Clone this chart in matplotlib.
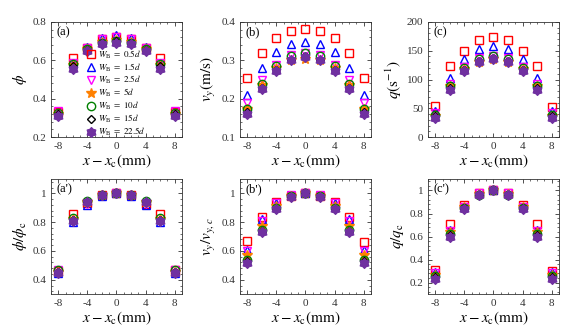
import numpy as np
import matplotlib
matplotlib.use('Agg')
import matplotlib.pyplot as plt
from matplotlib.ticker import AutoMinorLocator, MultipleLocator
from matplotlib.path import Path

plt.rcParams['font.family'] = ['Liberation Serif', 'DejaVu Serif']
plt.rcParams['mathtext.fontset'] = 'stix'

# positions across the bed
x = [-8, -6, -4, -2, 0, 2, 4, 6, 8]
labels = ['0.5', '1.5', '2.5', '5', '10', '15', '22.5']

# solid fraction phi
phi = [
    [0.33, 0.61, 0.665, 0.71, 0.72, 0.71, 0.665, 0.61, 0.33],
    [0.325, 0.585, 0.67, 0.715, 0.73, 0.715, 0.67, 0.585, 0.325],
    [0.335, 0.585, 0.665, 0.71, 0.72, 0.71, 0.665, 0.585, 0.335],
    [0.32, 0.575, 0.66, 0.695, 0.705, 0.695, 0.66, 0.575, 0.32],
    [0.325, 0.58, 0.66, 0.69, 0.70, 0.69, 0.66, 0.58, 0.325],
    [0.32, 0.57, 0.655, 0.69, 0.70, 0.69, 0.655, 0.57, 0.32],
    [0.31, 0.555, 0.65, 0.685, 0.69, 0.685, 0.65, 0.555, 0.31],
]
# vertical velocity
vy = [
    [0.255, 0.319, 0.357, 0.376, 0.382, 0.377, 0.358, 0.319, 0.254],
    [0.209, 0.28, 0.322, 0.342, 0.348, 0.342, 0.322, 0.28, 0.209],
    [0.188, 0.248, 0.288, 0.313, 0.318, 0.313, 0.288, 0.248, 0.188],
    [0.172, 0.235, 0.28, 0.302, 0.303, 0.302, 0.28, 0.235, 0.172],
    [0.172, 0.238, 0.286, 0.312, 0.318, 0.312, 0.286, 0.238, 0.172],
    [0.165, 0.229, 0.275, 0.302, 0.31, 0.302, 0.275, 0.229, 0.165],
    [0.160, 0.226, 0.272, 0.300, 0.308, 0.300, 0.272, 0.226, 0.160],
]
# flow rate
q = [
    [54, 123, 150, 169, 173, 169, 150, 123, 53],
    [46, 102, 135, 153, 158, 153, 135, 103, 46],
    [41, 93, 122, 137, 141, 137, 122, 93, 41],
    [37, 88, 118, 131, 135, 131, 118, 88, 37],
    [38, 89, 120, 135, 140, 135, 120, 89, 38],
    [36, 86, 116, 132, 137, 132, 116, 86, 36],
    [33, 82, 114, 130, 136, 130, 114, 82, 33],
]
# normalised by centre value
phi_n = [
    [0.46, 0.855, 0.93, 0.99, 1.0, 0.99, 0.925, 0.855, 0.465],
    [0.445, 0.80, 0.92, 0.98, 1.0, 0.98, 0.92, 0.80, 0.445],
    [0.465, 0.81, 0.925, 0.985, 1.0, 0.985, 0.925, 0.81, 0.465],
    [0.455, 0.82, 0.94, 0.99, 1.0, 0.99, 0.94, 0.82, 0.455],
    [0.465, 0.83, 0.945, 0.99, 1.0, 0.99, 0.945, 0.83, 0.465],
    [0.455, 0.815, 0.94, 0.99, 1.0, 0.99, 0.94, 0.815, 0.455],
    [0.45, 0.805, 0.94, 0.99, 1.0, 0.99, 0.94, 0.805, 0.45],
]
vy_n = [
    [0.67, 0.835, 0.94, 0.985, 1.0, 0.985, 0.94, 0.835, 0.665],
    [0.605, 0.82, 0.935, 0.99, 1.0, 0.99, 0.935, 0.82, 0.605],
    [0.60, 0.81, 0.93, 0.99, 1.0, 0.99, 0.93, 0.81, 0.60],
    [0.575, 0.77, 0.91, 0.985, 1.0, 0.985, 0.91, 0.77, 0.575],
    [0.54, 0.745, 0.90, 0.98, 1.0, 0.98, 0.90, 0.745, 0.54],
    [0.53, 0.74, 0.89, 0.975, 1.0, 0.975, 0.89, 0.74, 0.53],
    [0.515, 0.735, 0.89, 0.975, 1.0, 0.975, 0.89, 0.735, 0.515],
]
q_n = [
    [0.31, 0.71, 0.87, 0.98, 1.0, 0.98, 0.87, 0.71, 0.305],
    [0.29, 0.655, 0.86, 0.975, 1.0, 0.975, 0.86, 0.655, 0.29],
    [0.28, 0.65, 0.86, 0.975, 1.0, 0.975, 0.86, 0.65, 0.28],
    [0.265, 0.64, 0.855, 0.97, 1.0, 0.97, 0.855, 0.64, 0.265],
    [0.26, 0.625, 0.85, 0.965, 1.0, 0.965, 0.85, 0.625, 0.26],
    [0.25, 0.61, 0.845, 0.965, 1.0, 0.965, 0.845, 0.61, 0.25],
    [0.235, 0.595, 0.835, 0.96, 1.0, 0.96, 0.835, 0.595, 0.235],
]

# rounded hexagram, like the matlab filled 'h' marker
ang = np.pi / 2 + np.arange(12) * np.pi / 6
rad = np.where(np.arange(12) % 2 == 0, 1.0, 0.72)
verts = np.column_stack([rad * np.cos(ang), rad * np.sin(ang)])
verts = np.vstack([verts, verts[:1]])
hexagram = Path(verts, closed=True)

colors = ['#ff0000', '#0000ff', '#ff00ff', '#ff8000', '#008000', '#000000', '#7030a0']
markers = ['s', '^', 'v', '*', 'o', 'D', hexagram]
sizes = [6, 6, 6, 7, 6, 4.5, 7]
filled = [False, False, False, True, False, False, True]

fig = plt.figure(figsize=(5.68, 3.32), dpi=100)

lefts = [0.0898, 0.4225, 0.7535]
bottoms = [0.587, 0.114]
w, h = 0.2306, 0.347

panels = [
    (phi, (0.2, 0.8), [0.2, 0.4, 0.6, 0.8], r'$\phi$', '(a)'),
    (vy, (0.1, 0.4), [0.1, 0.2, 0.3, 0.4], r'$v_y(\mathrm{m/s})$', '(b)'),
    (q, (0, 200), [0, 50, 100, 150, 200], r'$q(\mathrm{s}^{-1})$', '(c)'),
    (phi_n, (0.3, 1.1), [0.4, 0.6, 0.8, 1.0], r'$\phi/\phi_\mathrm{c}$', "(a')"),
    (vy_n, (0.3, 1.1), [0.4, 0.6, 0.8, 1.0], r'$v_y/v_{y,c}$', "(b')"),
    (q_n, (0.1, 1.1), [0.2, 0.4, 0.6, 0.8, 1.0], r'$q/q_\mathrm{c}$', "(c')"),
]

for k, (data, ylim, yt, ylab, tag) in enumerate(panels):
    ax = fig.add_axes([lefts[k % 3], bottoms[k // 3], w, h])
    for i in range(7):
        fc = colors[i] if filled[i] else 'none'
        ax.plot(x, data[i], linestyle='none', marker=markers[i], ms=sizes[i],
                mfc=fc, mec=colors[i], mew=1.0,
                label=r'$W_\mathrm{B}\ =\ %s d$' % labels[i])
    ax.set_xlim(-9, 9)
    ax.set_ylim(*ylim)
    ax.set_xticks([-8, -4, 0, 4, 8])
    ax.set_xticklabels(['-8', '-4', '0', '4', '8'])
    ax.set_yticks(yt)
    ax.set_yticklabels(['1' if v == 1.0 else ('%g' % v) for v in yt])
    ax.xaxis.set_minor_locator(MultipleLocator(1))
    ax.yaxis.set_minor_locator(AutoMinorLocator(5))
    ax.tick_params(which='both', direction='in', top=True, right=True,
                   labelsize=8, colors='#333333', labelcolor='#333333')
    ax.tick_params(which='major', length=3, width=0.6)
    ax.tick_params(which='minor', length=1.5, width=0.5)
    for s in ax.spines.values():
        s.set_color('#333333')
        s.set_linewidth(0.6)
    ax.set_xlabel(r'$x-x_\mathrm{c}(\mathrm{mm})$', fontsize=11, labelpad=1)
    ax.set_ylabel(ylab, fontsize=11, labelpad=2)
    ax.text(0.04, 0.96, tag, transform=ax.transAxes, fontsize=9,
            ha='left', va='top')
    if k == 0:
        ax.legend(loc='upper left', bbox_to_anchor=(0.28, 0.77), frameon=False,
                  fontsize=6.5, handlelength=0.8, handletextpad=0.3,
                  labelspacing=0.08, borderpad=0.0, borderaxespad=0.0)

fig.savefig('out.png', dpi=100)
